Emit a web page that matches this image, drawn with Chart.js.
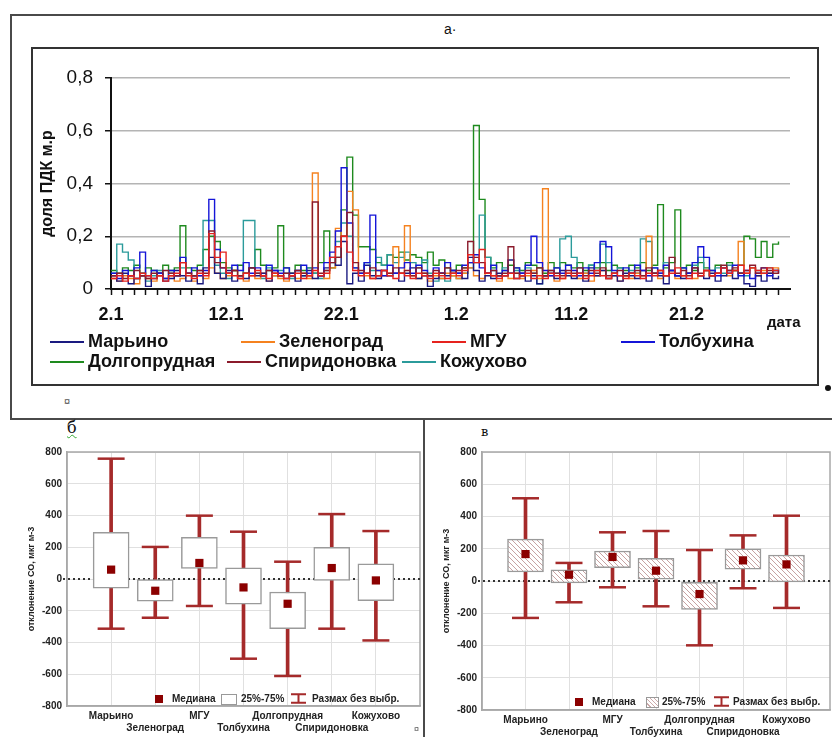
<!DOCTYPE html>
<html lang="ru">
<head>
<meta charset="utf-8">
<script src="https://cdn.jsdelivr.net/npm/chart.js@4.4.0/dist/chart.umd.min.js"></script>
<style>
  html, body { margin: 0; padding: 0; background: #fff; }
  body { width: 832px; height: 737px; position: relative; overflow: hidden;
         font-family: "Liberation Sans", Arial, sans-serif; color: #111; }
  .abs { position: absolute; }
  .frame-top { left: 10px; top: 14px; width: 840px; height: 402px;
               border-top: 2px solid #4a4a4a; border-left: 2px solid #4a4a4a; border-bottom: 2px solid #4a4a4a; }
  .frame-inner { left: 31px; top: 47px; width: 788px; height: 339px; box-sizing: border-box; border: 2px solid #333; }
  .divider { left: 423px; top: 418px; width: 2px; height: 330px; background: #4a4a4a; }
  .leg-line { height: 2px; }
  .leg-text { font-size: 18px; font-weight: bold; white-space: nowrap; }
  .bleg { font-size: 10px; font-weight: bold; white-space: nowrap; color: #222; }
  .sq { width: 8px; height: 8px; background: #8b0000; }
  .boxicon { width: 14px; height: 9px; border: 1px solid #999; background: #fff; }
  .boxicon.hatch { width: 11px; background: repeating-linear-gradient(45deg, #fff 0 2px, #caa 2px 3px); }
</style>
</head>
<body>
<div class="abs frame-top"></div>
<div class="abs frame-inner"></div>
<div class="abs divider"></div>
<div class="abs" style="left:444px; top:21px; font-size:14px;">а·</div>
<canvas id="lineChart" class="abs" style="left:33px; top:49px;" width="784" height="335"></canvas>
<div class="abs leg-text" style="left:767px; top:313px; font-size:15px;">дата</div>
<div id="lineLegend"></div>
<div class="abs" style="left:64px; top:395px; font-size:11px; color:#555;">¤</div>
<div class="abs" style="left:825px; top:385px; width:6px; height:6px; border-radius:3px; background:#111;"></div>

<canvas id="chartB" class="abs" style="left:22px; top:440px;" width="400" height="297"></canvas>
<canvas id="chartV" class="abs" style="left:437px; top:440px;" width="395" height="297"></canvas>
<div class="abs" style="left:67px; top:418px; font-family:'DejaVu Serif', serif; font-size:16px; text-decoration:underline wavy #3a3; text-decoration-thickness:1px;">б</div>
<div class="abs" style="left:481px; top:424px; font-family:'DejaVu Serif', serif; font-size:13px;">в</div>
<div class="abs" style="left:414px; top:724px; font-size:9px; color:#555;">¤</div>
<div id="boxLegends"></div>

<script>
// ---- данные: суточный ход, доля ПДК м.р (шаг 12 ч, с 2.1) ----
const stations = ['Марьино', 'Зеленоград', 'МГУ', 'Толбухина', 'Долгопрудная', 'Спиридоновка', 'Кожухово'];
const stationColors = ['#1a1a80', '#f5821f', '#e6231e', '#1515d8', '#1e8a1e', '#8b1a2b', '#2b9b9b'];
const drawOrder = [3, 4, 0, 2, 6, 1, 5];
const stepDays = 0.5;
const dayTicks = [0, 10, 20, 30, 40, 50];
const dayLabels = ['2.1', '12.1', '22.1', '1.2', '11.2', '21.2'];
const yTicks = [0, 0.2, 0.4, 0.6, 0.8];
const yLabels = ['0', '0,2', '0,4', '0,6', '0,8'];

const maryino = [
  0.05,0.03,0.06,0.02,0.04,0.05,0.01,0.04,0.06,0.03,
  0.04,0.07,0.05,0.03,0.05,0.02,0.08,0.12,0.06,0.04,
  0.07,0.03,0.05,0.04,0.08,0.05,0.06,0.03,0.07,0.05,
  0.04,0.06,0.03,0.05,0.07,0.04,0.05,0.08,0.12,0.09,
  0.18,0.02,0.06,0.03,0.09,0.05,0.04,0.07,0.05,0.06,
  0.03,0.06,0.08,0.04,0.05,0.01,0.04,0.06,0.05,0.07,
  0.06,0.04,0.12,0.07,0.03,0.05,0.04,0.06,0.05,0.11,
  0.04,0.06,0.03,0.05,0.02,0.05,0.06,0.04,0.07,0.05,
  0.04,0.06,0.03,0.08,0.05,0.07,0.04,0.05,0.03,0.06,
  0.05,0.04,0.07,0.03,0.06,0.05,0.02,0.07,0.05,0.04,
  0.06,0.08,0.05,0.04,0.06,0.03,0.05,0.07,0.04,0.06,
  0.02,0.01,0.05,0.03,0.06,0.04,0.05
];
const zelenograd = [
  0.04,0.03,0.05,0.04,0.02,0.05,0.04,0.03,0.06,0.04,
  0.05,0.03,0.04,0.06,0.03,0.05,0.04,0.08,0.06,0.04,
  0.05,0.07,0.04,0.03,0.05,0.04,0.06,0.03,0.05,0.04,
  0.03,0.05,0.04,0.06,0.04,0.44,0.05,0.04,0.08,0.23,
  0.20,0.37,0.30,0.06,0.05,0.04,0.07,0.05,0.06,0.16,
  0.06,0.24,0.05,0.04,0.06,0.03,0.05,0.04,0.06,0.05,
  0.04,0.06,0.08,0.05,0.04,0.06,0.05,0.03,0.05,0.04,
  0.06,0.04,0.05,0.07,0.04,0.38,0.05,0.03,0.04,0.06,
  0.05,0.04,0.06,0.03,0.05,0.07,0.04,0.05,0.03,0.05,
  0.04,0.06,0.05,0.20,0.06,0.04,0.05,0.07,0.04,0.05,
  0.06,0.04,0.05,0.07,0.05,0.06,0.08,0.05,0.07,0.18,
  0.06,0.08,0.05,0.07,0.06,0.08,0.07
];
const mgu = [
  0.04,0.05,0.03,0.05,0.04,0.06,0.05,0.04,0.05,0.03,
  0.05,0.06,0.10,0.05,0.04,0.06,0.05,0.21,0.12,0.14,
  0.06,0.05,0.04,0.06,0.05,0.07,0.05,0.04,0.06,0.05,
  0.04,0.05,0.06,0.04,0.05,0.07,0.05,0.06,0.12,0.16,
  0.20,0.14,0.07,0.05,0.06,0.04,0.05,0.07,0.05,0.04,
  0.06,0.05,0.04,0.06,0.05,0.04,0.06,0.05,0.04,0.06,
  0.05,0.07,0.13,0.10,0.15,0.06,0.05,0.04,0.05,0.06,
  0.04,0.05,0.06,0.04,0.05,0.04,0.06,0.05,0.04,0.06,
  0.05,0.06,0.04,0.05,0.07,0.05,0.04,0.06,0.05,0.04,
  0.06,0.05,0.04,0.06,0.05,0.07,0.05,0.06,0.08,0.05,
  0.04,0.06,0.05,0.07,0.05,0.06,0.08,0.06,0.07,0.09,
  0.06,0.08,0.07,0.06,0.08,0.07,0.07
];
const tolbukhina = [
  0.06,0.04,0.07,0.05,0.08,0.14,0.05,0.07,0.06,0.04,
  0.07,0.05,0.12,0.06,0.08,0.05,0.07,0.34,0.15,0.08,
  0.06,0.09,0.07,0.10,0.06,0.08,0.05,0.09,0.07,0.06,
  0.08,0.05,0.07,0.09,0.06,0.08,0.05,0.10,0.14,0.22,
  0.46,0.25,0.08,0.06,0.10,0.28,0.07,0.05,0.09,0.06,
  0.08,0.10,0.06,0.09,0.07,0.05,0.08,0.06,0.10,0.07,
  0.06,0.09,0.10,0.13,0.08,0.06,0.09,0.05,0.07,0.06,
  0.08,0.06,0.09,0.20,0.10,0.07,0.05,0.08,0.06,0.09,
  0.07,0.05,0.08,0.06,0.10,0.18,0.16,0.07,0.05,0.08,
  0.06,0.09,0.07,0.05,0.08,0.06,0.09,0.07,0.05,0.08,
  0.06,0.10,0.16,0.12,0.07,0.05,0.08,0.06,0.09,0.05,
  0.07,0.04,0.06,0.08,0.05,0.07,0.06
];
const dolgoprudnaya = [
  0.07,0.06,0.08,0.07,0.09,0.06,0.08,0.07,0.06,0.09,
  0.07,0.08,0.24,0.08,0.07,0.09,0.15,0.20,0.18,0.10,
  0.08,0.07,0.09,0.06,0.08,0.15,0.09,0.07,0.08,0.24,
  0.08,0.06,0.09,0.07,0.08,0.06,0.10,0.22,0.08,0.12,
  0.30,0.50,0.28,0.16,0.16,0.15,0.10,0.09,0.13,0.12,
  0.14,0.11,0.13,0.12,0.10,0.14,0.09,0.11,0.08,0.07,
  0.09,0.08,0.10,0.62,0.34,0.12,0.08,0.10,0.07,0.09,
  0.08,0.07,0.10,0.09,0.08,0.06,0.10,0.08,0.10,0.09,
  0.08,0.10,0.07,0.09,0.08,0.10,0.07,0.09,0.08,0.07,
  0.09,0.08,0.10,0.07,0.09,0.32,0.08,0.10,0.30,0.08,
  0.09,0.07,0.10,0.08,0.07,0.09,0.08,0.10,0.07,0.09,
  0.20,0.19,0.12,0.18,0.12,0.17,0.18
];
const spiridonovka = [
  0.05,0.06,0.04,0.05,0.07,0.05,0.04,0.06,0.05,0.07,
  0.06,0.05,0.10,0.06,0.05,0.07,0.06,0.22,0.10,0.08,
  0.06,0.07,0.05,0.06,0.08,0.06,0.05,0.07,0.06,0.05,
  0.06,0.05,0.07,0.06,0.05,0.33,0.06,0.07,0.10,0.12,
  0.20,0.29,0.10,0.07,0.06,0.08,0.05,0.07,0.06,0.08,
  0.06,0.07,0.05,0.08,0.06,0.05,0.07,0.06,0.08,0.06,
  0.07,0.08,0.18,0.12,0.10,0.06,0.07,0.05,0.06,0.16,
  0.06,0.05,0.07,0.06,0.08,0.05,0.07,0.06,0.05,0.07,
  0.06,0.08,0.05,0.07,0.06,0.08,0.05,0.06,0.07,0.05,
  0.06,0.07,0.05,0.08,0.06,0.07,0.05,0.12,0.06,0.07,
  0.05,0.08,0.06,0.07,0.05,0.06,0.09,0.07,0.08,0.06,
  0.07,0.09,0.06,0.08,0.07,0.06,0.07
];
const kozhukhovo = [
  0.06,0.17,0.14,0.11,0.04,0.06,0.03,0.05,0.07,0.04,
  0.06,0.05,0.08,0.06,0.05,0.07,0.26,0.26,0.09,0.06,
  0.04,0.07,0.05,0.26,0.26,0.06,0.04,0.08,0.05,0.07,
  0.06,0.04,0.07,0.05,0.08,0.06,0.04,0.07,0.10,0.18,
  0.25,0.20,0.08,0.06,0.10,0.07,0.12,0.09,0.13,0.10,
  0.12,0.14,0.10,0.08,0.11,0.06,0.03,0.04,0.03,0.05,
  0.04,0.06,0.08,0.10,0.28,0.12,0.07,0.05,0.08,0.06,
  0.07,0.05,0.08,0.06,0.02,0.05,0.07,0.06,0.19,0.20,
  0.12,0.08,0.06,0.09,0.07,0.17,0.10,0.06,0.08,0.05,
  0.07,0.06,0.19,0.18,0.08,0.06,0.10,0.07,0.05,0.08,
  0.06,0.09,0.12,0.07,0.05,0.08,0.06,0.09,0.07,0.06,
  0.05,0.08,0.07,0.06,0.08,0.07,0.08
];
const seriesValues = [maryino, zelenograd, mgu, tolbukhina, dolgoprudnaya, spiridonovka, kozhukhovo];

// ---- данные: отклонение СО, мкг м-3 (б и в) ----
const boxCats = ['Марьино', 'Зеленоград', 'МГУ', 'Толбухина', 'Долгопрудная', 'Спиридоновка', 'Кожухово'];
const bMin = [-313, -244, -170, -502, -611, -313, -387];
const bQ1  = [-57, -139, 67, -158, -313, -9, -137];
const bMed = [59, -74, 101, -53, -156, 69, -9];
const bQ3  = [294, 0, 262, 71, -82, 199, 96];
const bMax = [758, 202, 399, 298, 109, 409, 302];
const vMin = [-229, -132, -39, -157, -399, -45, -167];
const vQ1  = [56, -12, 83, 12, -176, 74, -6];
const vMed = [167, 39, 149, 64, -81, 128, 103];
const vQ3  = [260, 70, 186, 141, -8, 199, 161];
const vMax = [513, 112, 302, 310, 192, 283, 405];

const FONT = "'Liberation Sans', Arial, sans-serif";
Chart.defaults.font.family = FONT;

// легенда верхнего графика
const legendPos = [[50, 342], [241, 342], [432, 342], [621, 342], [50, 362], [227, 362], [402, 362]];
const lineLegend = document.getElementById('lineLegend');
stations.forEach((name, k) => {
    const [x, y] = legendPos[k];
    lineLegend.insertAdjacentHTML('beforeend',
        `<div class="abs leg-line" style="left:${x}px; top:${y - 1}px; width:34px; background:${stationColors[k]};"></div>` +
        `<div class="abs leg-text" style="left:${x + 38}px; top:${y - 11}px;">${name}</div>`);
});

// а: временной ряд
const allDays = Array.from({ length: 59 }, (_, d) => d);
new Chart(document.getElementById('lineChart'), {
    type: 'line',
    data: {
        datasets: seriesValues.map((vals, k) => ({
            label: stations[k],
            data: vals.map((v, i) => ({ x: i * stepDays, y: v })),
            borderColor: stationColors[k],
            borderWidth: 1.4,
            pointRadius: 0,
            stepped: true,
            fill: false,
            order: drawOrder[k]
        }))
    },
    options: {
        responsive: false,
        animation: false,
        events: [],
        layout: { autoPadding: false, padding: { top: 29, right: 27, bottom: 55, left: 0 } },
        plugins: { legend: { display: false }, tooltip: { enabled: false } },
        scales: {
            x: {
                type: 'linear', min: 0, max: 59,
                afterBuildTicks: s => { s.ticks = allDays.map(v => ({ value: v })); },
                afterFit: s => { s.height = 40; s.paddingLeft = 0; s.paddingRight = 0; },
                ticks: {
                    autoSkip: false, maxRotation: 0, padding: 9, color: '#111',
                    font: { size: 18, weight: 'bold' },
                    callback: v => { const k = dayTicks.indexOf(v); return k >= 0 ? dayLabels[k] : ''; }
                },
                grid: { drawOnChartArea: false, tickLength: 6, tickColor: '#111', tickWidth: 1.5 },
                border: { color: '#111', width: 2 }
            },
            y: {
                min: 0, max: 0.8,
                afterBuildTicks: s => { s.ticks = yTicks.map(v => ({ value: v })); },
                afterFit: s => { s.width = 78; s.paddingTop = 0; s.paddingBottom = 0; },
                ticks: {
                    padding: 12, color: '#111', font: { size: 19 },
                    callback: v => yLabels[yTicks.indexOf(v)]
                },
                title: { display: true, text: 'доля ПДК м.р', color: '#111',
                         font: { size: 16, weight: 'bold' }, padding: { top: 5, bottom: 0 } },
                grid: {
                    color: c => (c.tick && c.tick.value === 0) ? 'rgba(0,0,0,0)' : '#b4b4b4',
                    lineWidth: 1.5, borderDash: [21, 9],
                    tickLength: 6, tickColor: '#111', tickWidth: 1.5
                },
                border: { color: '#111', width: 2 }
            }
        }
    }
});

// б и в: диаграммы размаха
const boxFrame = {
    id: 'boxFrame',
    beforeDatasetsDraw(chart) {
        const { ctx, chartArea: a, scales } = chart;
        ctx.save();
        ctx.strokeStyle = '#a8a8a8';
        ctx.lineWidth = 1.5;
        ctx.strokeRect(a.left, a.top, a.right - a.left, a.bottom - a.top);
        const y0 = scales.y.getPixelForValue(0);
        ctx.strokeStyle = '#333';
        ctx.lineWidth = 2;
        ctx.setLineDash([2, 3]);
        ctx.beginPath();
        ctx.moveTo(a.left - 4, y0);
        ctx.lineTo(a.right, y0);
        ctx.stroke();
        ctx.restore();
    }
};

function hatchFor(canvas) {
    const c = document.createElement('canvas');
    c.width = 5; c.height = 5;
    const g = c.getContext('2d');
    g.fillStyle = '#fff';
    g.fillRect(0, 0, 5, 5);
    g.strokeStyle = '#c8a2a2';
    g.lineWidth = 1;
    g.beginPath();
    g.moveTo(-1, -1); g.lineTo(6, 6);
    g.moveTo(-1, 4); g.lineTo(1, 6);
    g.moveTo(4, -1); g.lineTo(6, 1);
    g.stroke();
    return canvas.getContext('2d').createPattern(c, 'repeat');
}

function makeBoxChart(id, lo, q1, med, q3, hi, boxFill, axisH) {
    const pos = boxCats.map((c, i) => i + 1);
    const whisker = '#a52a2a';
    new Chart(document.getElementById(id), {
        type: 'bar',
        data: {
            datasets: [
                { type: 'scatter', data: pos.map((x, i) => ({ x, y: med[i] })),
                  pointStyle: 'rect', pointRadius: 5.8, backgroundColor: '#8b0000',
                  borderColor: '#8b0000', borderWidth: 0, order: 0 },
                { type: 'bar', data: pos.map((x, i) => ({ x, y: [q1[i], q3[i]] })),
                  backgroundColor: boxFill, borderColor: '#9a9a9a', borderWidth: 1.5,
                  borderSkipped: false, barThickness: 36, grouped: false, order: 1 },
                { type: 'scatter', data: pos.flatMap((x, i) => [{ x, y: lo[i] }, { x, y: hi[i] }]),
                  pointStyle: 'line', pointRadius: 13.5, borderColor: whisker, borderWidth: 2.5, order: 2 },
                { type: 'bar', data: pos.map((x, i) => ({ x, y: [lo[i], hi[i]] })),
                  backgroundColor: whisker, barThickness: 3, grouped: false, order: 3 }
            ]
        },
        options: {
            responsive: false,
            animation: false,
            events: [],
            layout: { autoPadding: false, padding: { top: 12, right: 2, left: 0, bottom: 0 } },
            plugins: { legend: { display: false }, tooltip: { enabled: false } },
            scales: {
                x: {
                    type: 'linear', min: 0, max: 8, offset: false,
                    afterBuildTicks: s => { s.ticks = pos.map(v => ({ value: v })); },
                    afterFit: s => { s.height = axisH; s.paddingLeft = 0; s.paddingRight = 0; },
                    ticks: {
                        autoSkip: false, maxRotation: 0, padding: 4, color: '#222',
                        font: { size: 10, weight: 'bold' },
                        callback: v => { const i = v - 1; return i % 2 ? ['', boxCats[i]] : boxCats[i]; }
                    },
                    grid: { color: '#e0e0e0', lineWidth: 1, drawTicks: false, offset: false },
                    border: { color: '#a8a8a8', width: 1.5 }
                },
                y: {
                    min: -800, max: 800,
                    ticks: { stepSize: 200, padding: 5, color: '#222', font: { size: 10, weight: 'bold' } },
                    afterFit: s => { s.width = 45; s.paddingTop = 0; s.paddingBottom = 0; },
                    title: { display: true, text: 'отклонение СО, мкг м-3', color: '#222',
                             font: { size: 9, weight: 'bold' }, padding: { top: 4, bottom: 0 } },
                    grid: { color: '#e0e0e0', lineWidth: 1, drawTicks: false },
                    border: { color: '#a8a8a8', width: 1.5 }
                }
            }
        },
        plugins: [boxFrame]
    });
}

makeBoxChart('chartB', bMin, bQ1, bMed, bQ3, bMax, '#ffffff', 31);
makeBoxChart('chartV', vMin, vQ1, vMed, vQ3, vMax, hatchFor(document.getElementById('chartV')), 27);

// легенды б и в
const whiskerIcon = '<svg width="17" height="11" viewBox="0 0 17 11"><path d="M1 1.2H16M8.5 1.2V9.8M1 9.8H16" stroke="#a52a2a" stroke-width="2" fill="none"/></svg>';
function boxLegend(y, xs, hatched) {
    const box = document.getElementById('boxLegends');
    box.insertAdjacentHTML('beforeend',
        `<div class="abs sq" style="left:${xs[0]}px; top:${y - 4}px;"></div>` +
        `<div class="abs bleg" style="left:${xs[1]}px; top:${y - 6}px;">Медиана</div>` +
        `<div class="abs boxicon${hatched ? ' hatch' : ''}" style="left:${xs[2]}px; top:${y - 5}px;"></div>` +
        `<div class="abs bleg" style="left:${xs[3]}px; top:${y - 6}px;">25%-75%</div>` +
        `<div class="abs" style="left:${xs[4]}px; top:${y - 6}px; line-height:0;">${whiskerIcon}</div>` +
        `<div class="abs bleg" style="left:${xs[5]}px; top:${y - 6}px;">Размах без выбр.</div>`);
}
boxLegend(699, [155, 172, 221, 241, 290, 312], false);
boxLegend(702, [575, 592, 646, 662, 713, 733], true);
</script>
</body>
</html>
